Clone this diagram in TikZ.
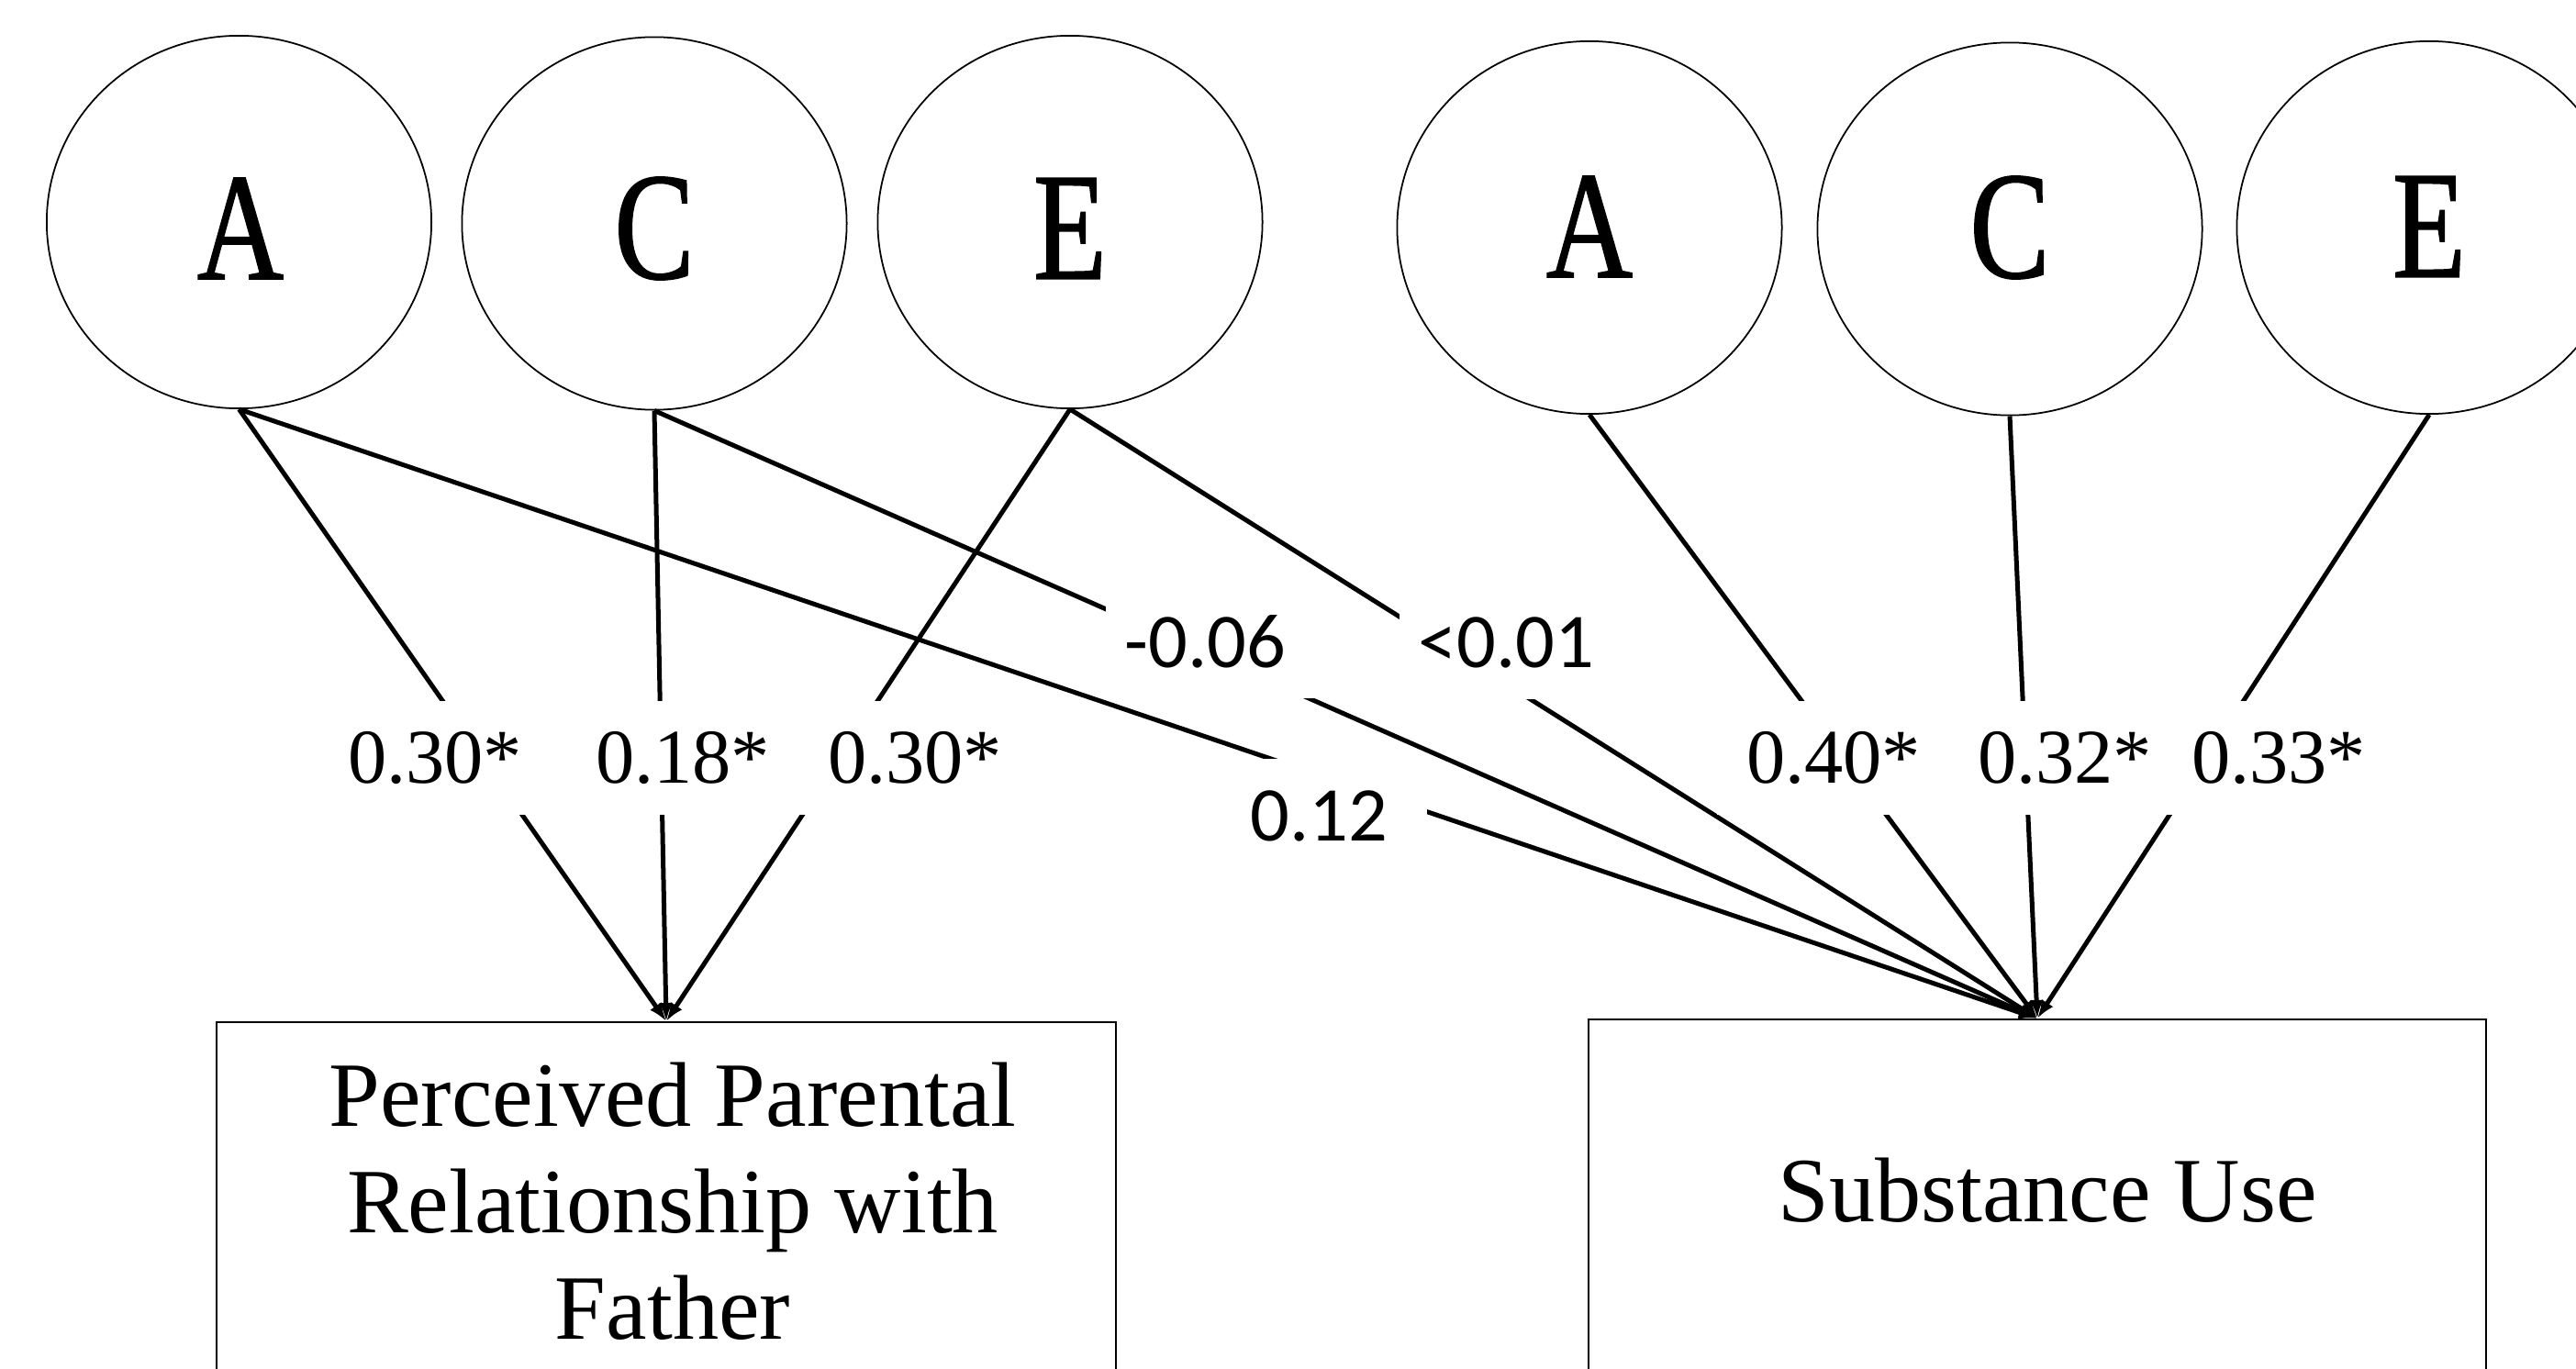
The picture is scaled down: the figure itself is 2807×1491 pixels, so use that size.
\documentclass[tikz,border=0pt]{standalone}
\usepackage{fontspec}
\setmainfont{Liberation Serif}
\newfontfamily\lettfont[FakeStretch=0.78,FakeBold=1]{Liberation Serif}
\newfontfamily\calfont{Carlito}
\usetikzlibrary{shapes.geometric,arrows.meta}
\begin{document}
\begin{tikzpicture}[x=0.01cm,y=-0.01cm,
  latent/.style={ellipse,draw,line width=0.5pt,minimum width=4.19cm,minimum height=4.06cm,inner sep=0pt},
  letter/.style={inner sep=0pt,font=\lettfont\fontsize{47.5}{50}\selectfont},
  obsbox/.style={rectangle,draw,line width=0.6pt,inner sep=0pt,minimum height=5cm,anchor=north},
  boxtext/.style={align=center,inner sep=0pt,font=\fontsize{28.5}{33}\selectfont},
  conn/.style={line width=0.05cm,-{Latex[length=0.2cm,width=0.15cm]}},
  toplab/.style={fill=white,inner xsep=0.32cm,inner ysep=0pt,minimum height=1.24cm,font=\fontsize{24}{28}\selectfont},
  midlab/.style={fill=white,inner xsep=0.21cm,inner ysep=0pt,minimum height=1.23cm,align=left,anchor=west,font=\calfont\fontsize{24}{28}\selectfont}
]
\useasboundingbox (0,0) rectangle (2807,1491);
\fill[white] (0,0) rectangle (2807,1491);
\clip (0,0) rectangle (2807,1491);

% latent variables
\node[latent] (a1) at (260.5,242) {};
\node[latent] (c1) at (713,243.5) {};
\node[latent] (e1) at (1166,242) {};
\node[latent] (a2) at (1732,248) {};
\node[latent] (c2) at (2190,249.5) {};
\node[latent] (e2) at (2647,248) {};
\node[letter] (ta1) at (262,249) {A};
\node[letter] (tc1) at (713,249) {C};
\node[letter] (te1) at (1166,249) {E};
\node[letter] (ta2) at (1732,247) {A};
\node[letter] (tc2) at (2190,248) {C};
\node[letter] (te2) at (2647,247) {E};

% observed boxes
\node[obsbox,minimum width=9.80cm] (pp) at (726,1113) {};
\node[obsbox,minimum width=9.77cm] (su) at (2220,1110) {};
\node[boxtext] (pptext) at (733,1309) {Perceived Parental\\Relationship with\\Father};
\node[boxtext] (sutext) at (2231,1297) {Substance Use};

% paths
\draw[conn] (a1.south) -- (pp.north);
\draw[conn] (c1.south) -- (pp.north);
\draw[conn] (e1.south) -- (pp.north);
\draw[conn] (a1.south) -- (su.north);
\draw[conn] (c1.south) -- (su.north);
\draw[conn] (e1.south) -- (su.north);
\draw[conn] (a2.south) -- (su.north);
\draw[conn] (c2.south) -- (su.north);
\draw[conn] (e2.south) -- (su.north);

% labels
\node[toplab] (l1) at (474,826) {0.30*};
\node[toplab] (l2) at (744,826) {0.18*};
\node[toplab] (l3) at (997,826) {0.30*};
\node[toplab] (l4) at (1998,826) {0.40*};
\node[toplab] (l5) at (2250,826) {0.32*};
\node[toplab] (l6) at (2483,826) {0.33*};
\node[midlab,text width=2.16cm] (m1) at (1204,699) {-0.06};
\node[midlab,text width=2.16cm] (m2) at (1524,700) {<0.01};
\node[midlab,text width=1.71cm] (m3) at (1341,889) {0.12};
\end{tikzpicture}
\end{document}
